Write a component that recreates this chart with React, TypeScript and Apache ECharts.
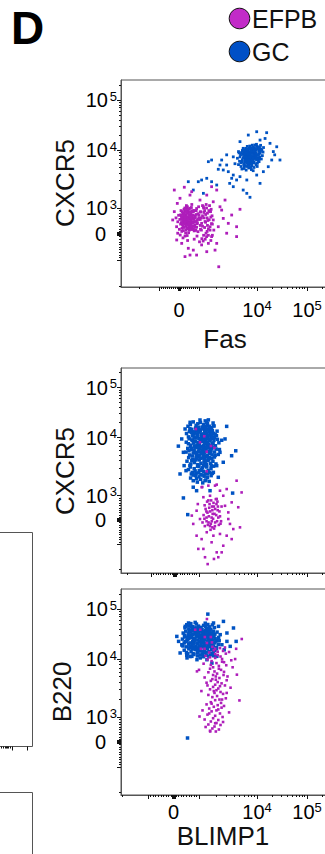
import React, { useEffect, useRef } from "react";
import * as echarts from "echarts";

const FONT = "'Liberation Sans', Arial, Helvetica, sans-serif";
const COLOR_EFPB = "#AE1EBA";
const COLOR_GC = "#0053C3";
const LEGEND_EFPB = "#C22BC8";
const LEGEND_GC = "#0050C6";

const groups = ["EFPB", "GC"];

// tick marks (fluorescence units)
const majorTicks = [-1000, -60, -40, -20, 0, 20, 40, 60, 1000, 10000, 100000];
const minorTicks = [
  -2000, -900, -800, -700, -600, -500, -400, -300, -200, -100, 100, 200, 300, 400, 500, 600, 700, 800, 900,
  2000, 3000, 4000, 5000, 6000, 7000, 8000, 9000, 20000, 30000, 40000, 50000, 60000, 70000, 80000, 90000, 200000,
];
const xTickLabels = [0, 10000, 100000];
const yTickLabels = [0, 1000, 10000, 100000];

// ---------- Panel 1 : Fas (x) vs CXCR5 (y) ----------
const p1Efpb: number[][] = [
  [400,520],[350,610],[520,450],[280,700],[610,380],[450,820],[180,560],[700,600],[330,300],[560,720],[240,420],[480,250],[650,890],[120,680],[390,980],[760,460],[520,150],[300,880],[80,380],[620,580],[430,380],[200,780],[550,990],[700,300],[350,150],[150,220],[810,700],[460,640],[280,520],[600,760],[40,560],[380,440],[720,860],[250,950],[520,560],[330,720],[900,520],[160,860],[480,50],[640,180],[20,180],[580,340],[420,1050],[300,-80],[120,440],[860,900],[200,-150],[760,120],[460,880],[350,600],[550,620],[230,650],[670,470],[90,740],[400,230],[540,830],[310,400],[700,730],[140,100],[880,260],[460,410],[260,250],[600,500],[380,800],[500,950],[170,370],[740,560],[290,1000],[620,1020],[-60,470],[430,-250],[820,620],[350,480],[200,320],[660,680],[500,330],[270,820],[950,780],[-120,280],[580,180],[410,650],[130,580],[760,900],[330,40],[480,740],[250,600],[700,420],[560,260],[100,900],[380,360],[900,400],[450,560],[220,130],[630,860],[300,660],[60,-40],[520,700],[790,350],[370,1100],[180,480],[990,620],[470,200],[-20,720],[660,280],[340,900],[560,470],[150,650],[840,140],[410,-60],[290,470],[1050,850],[600,650],[240,720],[720,180],[500,420],[-150,620],
  [1150,700],[1300,450],[1250,900],[1450,200],[1100,150],[1600,650],[1200,-50],[1400,800],[1050,560],[1700,380],[1350,1000],[1150,300],[1500,550],[1280,-200],[1080,850],[1800,150],[1220,620],[1620,950],[1380,100],[1120,-180],
  [700,200],[820,480],[950,90],[1000,720],[880,980],[760,-200],[1150,1100],[1300,750],[1420,520],[1550,150],[1680,700],[640,1150],[900,-80],[1050,330],[1200,1000],[1350,-100],[1480,900],[1600,-250],[780,650],[920,420],[1020,-300],[1250,250],[1380,620],[1520,1100],[1700,-50],[860,750],[980,1050],[1100,620],[1270,480],[1450,-50],[1640,400],[740,900],[1060,180],[1330,1150],[1580,860],[1180,-270],[820,260],[1400,330],[960,560],[1220,830],
  [-235,2040],[265,2280],[550,1670],[1650,2330],[1360,1670],[2020,2040],[2810,1370],[2460,920],[3660,730],[5090,950],[4450,-100],[4450,280],[3000,30],[2190,-1260],[880,-810],[1360,-680],[2020,-360],[1890,-620],[465,-550],[135,-360],[715,-620],[-115,-230],[1650,-100],[1760,540],[1550,860],[2150,280],[2620,600],[3200,410],[50,1470],[1040,1370],[635,1910],[-85,1200],[1190,1050],[1760,1280],[2300,1050],[1450,-360],[1110,-420],[300,-870],[550,-810],[-65,30],[-315,540],[-235,860],[1320,30],[1550,280],[1110,410],
];
const p1Gc: number[][] = [
  [7500,7000],[6200,8100],[8800,6200],[5600,6800],[9600,8600],[7000,9400],[8200,5300],[6600,5900],[10500,7400],[5100,7600],[7800,10200],[9200,9800],[6000,4800],[11500,8800],[8500,7600],[6900,6400],[5400,9000],[10200,5900],[7300,8300],[9000,11200],[6300,7100],[8000,4600],[12000,10500],[4800,5600],[7600,5800],[9800,6800],[5800,10200],[8600,9000],[6800,11800],[11000,6300],[7100,7800],[9400,7900],[5300,5200],[8300,12500],[6500,9600],[10800,9600],[7900,6600],[4600,7200],[12800,8000],[6100,6200],[8900,5000],[7400,10800],[9900,11800],[5700,8400],[10300,10400],[6700,5200],[8100,8800],[7200,4900],[11200,11600],[5000,6400],[9300,7200],[6400,10800],[8700,6900],[13200,9200],[7700,9100],[5500,4700],[10000,8200],[6900,7400],[8400,10600],[12200,7000],[6000,9200],[9600,5600],[7200,6100],[5200,8300],[11800,12400],[8000,7300],[6600,8700],[10600,6600],[7500,12000],[9100,8400],[5900,5700],[8600,4400],[6300,6700],[12500,9900],[7800,7700],[4900,8900],[10400,11000],[7000,5500],[9500,10000],[6500,4500],[8300,6300],[11300,7600],[5600,9800],[7400,8800],[9800,13000],[6800,6900],[13500,11200],[8200,9500],[5300,6000],[10900,8700],[7100,10000],[8900,7500],[6200,5400],[11600,10200],[7700,6300],[9200,12600],[5800,7300],[10100,5200],[8500,11400],[6600,7800],
  [7300,7500],[6700,8400],[8400,6700],[7900,9800],[6400,6300],[9700,7700],[8800,10300],[5900,7700],[7600,6200],[10700,8300],[6200,9900],[8100,5700],[9300,9200],[7000,8700],[5500,6300],[11700,9500],[7400,5400],[8700,8100],[6800,10500],[10100,6800],[7700,8500],[9000,6000],[6500,7500],[8200,11000],[7200,6700],[9500,8900],[6000,5200],[10900,10800],[8000,8000],[7000,6000],[8600,7200],[6300,8700],[9400,10600],[7800,5000],[5700,9500],[11000,7000],[8900,9700],[6600,6600],[7500,10800],[9900,7100],
  [28800,6720],[15600,22200],[9880,23200],[7080,19900],[18200,13600],[14500,17000],[11500,15800],[5090,14700],[5780,10800],[21200,9390],[16800,5150],[11500,2660],[7570,1530],[5780,2040],[3900,2330],[3660,3250],[4450,3040],[3200,4230],[3000,5510],[2300,5510],[2150,4650],[1650,6720],[1450,6290],[2460,6720],[2620,4520],[1650,2840],[1360,3250],[1110,3040],[965,2840],[715,2040],[465,2840],[1190,1790],[2020,2490],[3380,2660],[3900,3700],[5090,3470],[6670,3040],[9880,3700],[13400,4230],[19700,6720],[24800,11600],[3900,7620],[4170,5800],[4800,9390],[22600,8250],[6670,1790],[3000,8250],
];

// ---------- Panel 2 : BLIMP1 (x) vs CXCR5 (y) ----------
const p2Gc: number[][] = [
  [620,15000],[880,17500],[1150,16200],[1400,19000],[760,20500],[1030,14200],[1650,15800],[540,16800],[1280,21500],[950,18800],[1820,17000],[700,14600],[1200,18100],[1500,14400],[860,15500],[1350,16900],[1060,20000],[640,18200],[1750,19500],[1450,22500],
  [480,12000],[600,13200],[720,10800],[830,12600],[940,11300],[1050,13600],[1160,10400],[1260,12300],[1380,11000],[1490,13100],[1620,10700],[1760,12100],[1900,11600],[2050,13400],[560,10300],[990,12900],[1320,13900],[1560,11900],[800,11700],[1110,11100],[680,12700],[1700,13700],[1230,10100],[900,13900],[1430,10300],[2000,10900],
  [470,8300],[590,9500],[650,7400],[740,8800],[820,7100],[880,9800],[960,8200],[1020,7600],[1090,9200],[1150,8600],[1210,7300],[1290,9900],[1340,8000],[1420,9400],[1480,7500],[1550,8700],[1640,9700],[1700,7800],[1810,8900],[1920,7200],[2080,9300],[2200,8100],[560,7800],[700,9100],[1000,9600],[1250,8400],[1600,7000],[1380,7200],[920,7400],[1120,9900],[1850,9900],[780,8000],
  [460,5600],[530,6500],[610,5000],[690,6200],[760,5400],[840,6800],[900,4900],[970,5800],[1040,6400],[1100,5200],[1180,6900],[1240,5500],[1310,6100],[1370,4900],[1450,6600],[1520,5300],[1590,6000],[1680,5000],[1760,6700],[1850,5600],[1980,6300],[2150,5100],[580,5900],[720,4800],[1000,5000],[1150,6000],[1280,6700],[1420,5700],[1650,6400],[800,6000],[1900,4900],[1060,6900],[2250,6200],[650,6900],
  [500,3900],[570,4500],[660,3500],[740,4200],[810,3700],[880,4600],[950,3400],[1010,4100],[1080,3600],[1140,4400],[1220,3800],[1290,4700],[1350,3400],[1430,4000],[1500,4500],[1580,3600],[1660,4300],[1740,3900],[1840,4600],[1960,3500],[620,3300],[1000,4700],[1190,3300],[1400,4700],[1620,3300],[860,4100],[1260,4200],[700,4000],
  [560,2800],[640,3100],[720,2500],[800,2900],[870,2400],[940,3200],[1010,2700],[1080,2300],[1150,3000],[1210,2600],[1290,2400],[1360,3100],[1440,2700],[1520,2500],[1610,2900],[1700,2400],[1780,3200],[680,2350],[980,2450],[1240,3250],[840,2650],[1400,2350],[1100,2800],
  [650,2000],[760,1800],[850,2200],[930,1700],[1000,2100],[1070,1900],[1160,1650],[1230,2150],[1310,1850],[1400,2050],[1500,1750],[1620,2200],[900,1950],[1150,2250],[760,2250],
  [1000,8000],[1200,6500],[900,5500],[1100,11800],[1300,9000],[800,9900],[1450,7300],[1050,4400],[1250,3600],[950,12600],[1400,5800],[1150,14800],[850,7000],[1350,12000],[1000,3200],[1550,9200],[750,11000],[1200,16500],[1600,5600],[950,6700],[1100,2700],[1300,15200],[700,6500],[1500,11200],[1050,9300],[1250,7800],[900,4300],[1450,4200],[1150,10300],[800,13000],[1700,10300],[1350,6800],[1000,16000],[1200,4900],[1600,13000],[850,8600],[1400,8300],[1100,5600],[950,10600],[1250,13200],[1750,8000],[1050,7000],[1300,3900],[1500,16800],[900,15000],[1150,8900],[1400,14300],[1000,5900],[1200,11000],[1650,7100],
  [140,7100],[3000,16700],[4300,5900],[3650,4850],[530,220],[350,900],[3800,1100],[210,2350],[460,2680],[760,1390],[900,1210],[1270,1800],[1550,1210],[1770,2510],[2150,2060],[2620,3740],[2810,9440],[2460,8960],[2300,5550],[630,20100],[1040,22400],[1360,20100],[1770,17200],[420,14800],[280,9440],[350,5550],[380,3270],[2020,3270],
];
const p2Efpb: number[][] = [
  [1650,100],[1400,300],[1900,-100],[1250,600],[2100,400],[1550,-250],[1780,700],[1350,-50],[2300,150],[1500,500],[1700,-300],[1200,200],[2000,650],[1850,250],[1450,800],[1600,-150],[2200,-200],[1300,450],[1750,50],[2450,550],[1150,-100],[1950,850],[1550,350],[1820,-350],[1380,750],[2150,100],[1680,550],[1260,-250],[2050,-50],[1480,150],[1900,450],[1620,800],[2350,-150],[1720,250],[1340,350],[2080,750],[1580,-400],[1980,200],[1420,-200],[1800,550],[1240,50],[2250,350],[1660,-50],[1880,-250],[1520,650],[2120,550],[1350,100],[1700,400],[2400,-50],[1460,-100],
  [1110,1390],[1450,1480],[1890,1480],[2300,1210],[3000,1290],[4450,1800],[5430,1130],[3660,720],[3200,310],[3900,-370],[5090,-300],[3660,-780],[3000,-640],[2620,-1050],[2020,-1320],[2150,-1520],[1410,-1800],[1190,-1180],[970,-1180],[900,-640],[1110,-780],[1650,-910],[1770,-640],[1360,-500],[2300,-570],[1810,-1590],[1040,40],[900,380],[950,650],[1190,930],[1550,990],[2020,860],[2620,990],[2810,580],[3200,40],[4750,520],[3420,-160],[1270,-1520],[2460,-1320],[760,-160],[700,180],
  [870,14800],[1230,10600],[1040,8260],[1610,7130],[1360,5700],[1840,6630],[1360,2610],[1140,1400],[2020,1540],
];

// ---------- Panel 3 : BLIMP1 (x) vs B220 (y) ----------
const p3Gc: number[][] = [
  [450,42000],[600,46000],[750,39000],[900,50000],[1050,43000],[1200,47000],[1350,40000],[1500,44000],[1700,48000],[680,51000],[820,41500],[980,45500],[1130,38500],[1280,52000],[1420,49000],[1600,39500],[520,48500],[1850,42500],[1000,40200],[760,44500],
  [380,33000],[480,36000],[570,30000],[660,34500],[740,31500],[830,37000],[910,29500],[990,33500],[1060,36500],[1140,30500],[1220,34000],[1300,37500],[1390,31000],[1470,35000],[1560,29000],[1650,33000],[1760,36000],[1880,31500],[2050,34500],[430,30000],[620,37500],[870,32000],[1100,29000],[1330,33500],[1520,37500],[950,35500],[700,29300],[1800,29500],
  [350,25000],[440,27500],[520,23000],[600,26000],[680,28500],[750,22500],[820,25500],[890,28000],[960,24000],[1030,26500],[1090,22000],[1160,27500],[1230,24500],[1310,28800],[1380,23000],[1450,26000],[1530,22500],[1620,27000],[1710,24000],[1800,28000],[1900,25500],[2050,23500],[2180,27000],[560,24500],[790,23800],[1000,28800],[1270,26800],[1580,25000],[720,27000],[1120,25000],[480,22300],[1950,22800],
  [340,19000],[420,21000],[500,17500],[590,20000],[660,16800],[730,19500],[810,21500],[880,18000],[950,20500],[1020,17000],[1080,19200],[1150,21800],[1210,17800],[1290,20200],[1360,16600],[1430,19000],[1510,21300],[1590,17700],[1680,20000],[1770,18300],[1870,21000],[2000,17000],[2150,19500],[640,18200],[920,16500],[1250,19000],[1550,18800],[780,17300],[1100,20800],[1700,16700],
  [420,15000],[510,13500],[600,16000],[690,14000],[770,12800],[850,15500],[930,13200],[1010,16200],[1080,14400],[1160,12600],[1240,15200],[1320,13700],[1400,16400],[1480,14100],[1570,12900],[1660,15600],[1760,13400],[1880,14800],[2000,16000],[560,12700],[980,14800],[1200,13900],[1700,12700],[740,16300],
  [520,11800],[650,11200],[800,12300],[940,11500],[1070,12100],[1190,11100],[1330,11900],[1480,11400],[1620,12200],[1780,11600],
  [900,30000],[1100,24000],[800,20000],[1300,36000],[700,27000],[1000,18000],[1200,31000],[600,33000],[1400,22000],[900,42000],[1050,15500],[1500,30000],[750,36500],[1250,19500],[1650,25500],[850,24000],[1100,40000],[650,21000],[1350,27500],[950,14000],[1550,34000],[1150,17500],[700,44000],[1450,41000],[1000,33000],[800,16000],[1300,45000],[1200,23000],[550,27000],[1600,21500],[1050,29000],[900,37500],[1400,17000],[750,31000],[1150,35000],[1250,13500],[1700,31000],[600,40000],[1000,22500],[1350,32500],
  [1420,79000],[2640,56500],[3930,41700],[4370,22500],[550,160],[200,22500],[260,13200],[370,18200],[130,28300],[460,45000],[590,52500],[850,54000],[1780,52500],[2170,45000],[2320,30700],[2480,19300],[3030,22500],[3450,17900],[2720,15300],[3030,33100],[1050,10500],[920,9730],[1370,9730],[720,11300],[2030,11300],[530,10500],[1670,8510],[330,19300],[2230,23200],
];
const p3Efpb: number[][] = [
  [1800,15000],[2100,12000],[1500,13500],[2600,14500],[1300,11500],[2900,12800],[1900,10500],[2300,16500],[1650,9200],[2500,10000],[3300,13800],[1400,9800],[2000,8500],[2700,8800],[1200,8300],[2200,7600],[1750,7200],[2950,7800],[1550,6800],[2400,6500],[3600,9500],[1850,6100],[2050,5600],[1450,5900],[2650,5300],[1950,5000],[2250,4700],[1700,4500],[3100,5000],[1600,4200],[2100,4000],[2450,3800],[1900,3600],[1350,3900],[2800,3500],[1750,3300],[2150,3100],[2000,2900],[1550,3000],[2350,2700],[1850,2600],[2600,2500],[1450,2400],[2050,2300],[1700,2200],[3000,2600],[2250,2000],[1900,1950],[1600,1800],[2400,1750],[1350,1650],[2100,1600],[1800,1500],[2700,1550],[1500,1400],[2000,1300],[1650,1250],[2300,1150],[1400,1100],[1900,1050],[2550,1000],[1750,950],[1250,900],[2150,880],[1600,820],[2000,760],[1450,700],[2350,680],[1850,620],[1700,540],[2200,500],[1300,600],[2600,800],[1550,450],[1950,420],[3300,1200],[1150,1300],[2900,2100],[1100,2800],[3500,3200],[1250,4800],[3000,4300],[2700,6000],[1000,6500],[3800,7200],[1550,10800],[2100,14000],[1250,16000],[2800,17000],[1700,17500],[2350,11200],[1900,12600],[1600,7900],[2500,9000],[1950,4400],[2300,3400],[1800,2800],[2500,2000],[1650,1700],[2150,1350],[1900,750],[1500,1150],[2450,1450],[1750,5300],[2200,6800],[1400,3500],
  [5460,25100],[4980,1930],[1370,63000],[1560,420],[4500,5370],[4200,9970],[4370,16000],[920,6120],[1020,1020],
  [1050,38500],[1370,20900],[1670,21500],[1600,27500],[1080,16000],[1260,27500],[1900,16000],[850,38500],
];

// ---------- scale: biexponential-like display transform ----------
function biex(v: number, z: number): number {
  const a = z - 1.16;
  if (v < 1000) return (a * v) / 1000;
  if (v < 10000) return a + 1.16 * Math.log10(v / 1000);
  return z + Math.log10(v / 10000);
}

const GRID_LEFT = 121;
const GRID_WIDTH = 211;
const PX_PER_DECADE = 50;

const panels = [
  { top: 80, height: 207, zx: 1.56, zy: 1.68, xmin: -1.16, ymin: -1.06, ymax: 3.08, efpb: p1Efpb, gc: p1Gc, xLabels: true, labelMargin: 12, gcSize: 2.8, efpbSize: 2.8 },
  { top: 368, height: 205, zx: 1.64, zy: 1.65, xmin: -1.08, ymin: -1.06, ymax: 3.04, efpb: p2Efpb, gc: p2Gc, xLabels: false, labelMargin: 12, gcSize: 3.5, efpbSize: 2.6 },
  { top: 589, height: 206, zx: 1.67, zy: 1.66, xmin: -1.05, ymin: -1.06, ymax: 3.06, efpb: p3Efpb, gc: p3Gc, xLabels: true, labelMargin: 6, gcSize: 3.5, efpbSize: 2.6 },
];

const titles = [
  { text: "CXCR5", x: 65, y: 183, rot: true },
  { text: "Fas", x: 225, y: 339, rot: false },
  { text: "CXCR5", x: 65, y: 471, rot: true },
  { text: "B220", x: 62, y: 692, rot: true },
  { text: "BLIMP1", x: 223, y: 836, rot: false },
];

const legendItems = [
  { name: groups[0], color: LEGEND_EFPB, cy: 18.5 },
  { name: groups[1], color: LEGEND_GC, cy: 51.5 },
];

function labelText(v: number, padZero: boolean): string {
  if (v === 0) return padZero ? "{b|0}{p| }" : "{b|0}";
  const k = Math.round(Math.log10(v));
  return `{b|10}{s|${k}}`;
}

function nearest(list: number[], val: number, z: number): number {
  let best = list[0];
  let d = Infinity;
  for (const L of list) {
    const dd = Math.abs(biex(L, z) - val);
    if (dd < d) {
      d = dd;
      best = L;
    }
  }
  return best;
}

function rich(isY: boolean) {
  return {
    b: { fontSize: 20, fontFamily: FONT, color: "#000", lineHeight: 21 },
    s: { fontSize: 13, fontFamily: FONT, color: "#000", verticalAlign: "top", lineHeight: 13, ...(isY ? { width: 9 } : {}) },
    p: { fontSize: 13, fontFamily: FONT, color: "#000", width: 11 },
  };
}

function buildOption() {
  const grid: any[] = [];
  const xAxis: any[] = [];
  const yAxis: any[] = [];
  const series: any[] = [];

  panels.forEach((p, i) => {
    const xmax = p.xmin + GRID_WIDTH / PX_PER_DECADE;
    grid.push({
      left: GRID_LEFT,
      top: p.top,
      width: GRID_WIDTH,
      height: p.height,
      show: true,
      borderColor: "#555",
      borderWidth: 1,
      containLabel: false,
    });
    const inX = (d: number) => d >= p.xmin - 1e-6 && d <= xmax + 1e-6;
    const inY = (d: number) => d >= p.ymin - 0.02 && d <= p.ymax + 1e-6;
    const xMaj = majorTicks.map((v) => biex(v, p.zx)).filter(inX);
    const xMin = minorTicks.map((v) => biex(v, p.zx)).filter(inX);
    const yMaj = majorTicks.map((v) => biex(v, p.zy)).filter(inY);
    const yMin = minorTicks.map((v) => biex(v, p.zy)).filter(inY);

    xAxis.push({
      gridIndex: i,
      type: "value",
      position: "bottom",
      min: p.xmin,
      max: xmax,
      axisLine: { show: true, onZero: false, lineStyle: { color: "#555", width: 1 } },
      axisTick: { show: true, customValues: xMaj, length: 4, lineStyle: { color: "#111", width: 1 } },
      axisLabel: {
        show: p.xLabels,
        customValues: xTickLabels.map((v) => biex(v, p.zx)),
        margin: p.labelMargin,
        fontSize: 20,
        fontFamily: FONT,
        color: "#000",
        formatter: (val: number) => labelText(nearest(xTickLabels, val, p.zx), false),
        rich: rich(false),
      },
      splitLine: { show: false },
    });
    xAxis.push({
      gridIndex: i,
      type: "value",
      position: "bottom",
      min: p.xmin,
      max: xmax,
      axisLine: { show: false, onZero: false },
      axisTick: { show: true, customValues: xMin, length: 2, lineStyle: { color: "#111", width: 1 } },
      axisLabel: { show: false },
      splitLine: { show: false },
    });
    yAxis.push({
      gridIndex: i,
      type: "value",
      position: "left",
      min: p.ymin,
      max: p.ymax,
      axisLine: { show: true, onZero: false, lineStyle: { color: "#555", width: 1 } },
      axisTick: { show: true, customValues: yMaj, length: 4, lineStyle: { color: "#111", width: 1 } },
      axisLabel: {
        show: true,
        customValues: yTickLabels.map((v) => biex(v, p.zy)),
        margin: 4,
        fontSize: 20,
        fontFamily: FONT,
        color: "#000",
        formatter: (val: number) => labelText(nearest(yTickLabels, val, p.zy), true),
        rich: rich(true),
      },
      splitLine: { show: false },
    });
    yAxis.push({
      gridIndex: i,
      type: "value",
      position: "left",
      min: p.ymin,
      max: p.ymax,
      axisLine: { show: false, onZero: false },
      axisTick: { show: true, customValues: yMin, length: 2, lineStyle: { color: "#111", width: 1 } },
      axisLabel: { show: false },
      splitLine: { show: false },
    });

    const toDisp = (pts: number[][]) => pts.map(([x, y]) => [biex(x, p.zx), biex(y, p.zy)]);
    series.push({
      type: "scatter",
      name: groups[1],
      xAxisIndex: i * 2,
      yAxisIndex: i * 2,
      data: toDisp(p.gc),
      symbol: "rect",
      symbolSize: p.gcSize,
      itemStyle: { color: COLOR_GC, opacity: 1 },
      silent: true,
    });
    series.push({
      type: "scatter",
      name: groups[0],
      xAxisIndex: i * 2,
      yAxisIndex: i * 2,
      data: toDisp(p.efpb),
      symbol: "rect",
      symbolSize: p.efpbSize,
      itemStyle: { color: COLOR_EFPB, opacity: 1 },
      silent: true,
    });
  });

  const graphic: any[] = [
    {
      type: "text",
      x: 11,
      y: 28,
      style: { text: "D", fontSize: 46, fontWeight: "bold", fontFamily: FONT, fill: "#000", align: "left", verticalAlign: "middle" },
    },
    ...titles.map((t) => ({
      type: "text",
      x: t.x,
      y: t.y,
      rotation: t.rot ? Math.PI / 2 : 0,
      style: { text: t.text, fontSize: 26, fontFamily: FONT, fill: "#111", align: "center", verticalAlign: "middle" },
    })),
    // legend
    ...legendItems.flatMap((it) => [
      { type: "circle", shape: { cx: 239.5, cy: it.cy, r: 10.3 }, style: { fill: it.color, stroke: "#111", lineWidth: 1 } },
      {
        type: "text",
        x: 252,
        y: it.cy + 0.5,
        style: { text: it.name, fontSize: 25, fontFamily: FONT, fill: "#111", align: "left", verticalAlign: "middle" },
      },
    ]),
    // partial frames of neighbouring panels (cut off at left edge)
    { type: "rect", shape: { x: -5, y: 532.5, width: 37.5, height: 214 }, style: { fill: "none", stroke: "#555", lineWidth: 1 } },
    { type: "rect", shape: { x: -5, y: 792.5, width: 37.5, height: 100 }, style: { fill: "none", stroke: "#555", lineWidth: 1 } },
    ...[1.5, 3.5, 5.5, 6.5, 7.5, 8.5, 10.5].map((x) => ({
      type: "line",
      shape: { x1: x, y1: 746.5, x2: x, y2: 748.5 },
      style: { stroke: "#111", lineWidth: 1 },
    })),
    ...[12.5, 27.5].map((x) => ({
      type: "line",
      shape: { x1: x, y1: 746.5, x2: x, y2: 750.5 },
      style: { stroke: "#111", lineWidth: 1 },
    })),
  ];

  return {
    animation: false,
    backgroundColor: "#fff",
    grid,
    xAxis,
    yAxis,
    series,
    graphic,
  };
}

export default function App() {
  const ref = useRef<HTMLDivElement>(null);
  useEffect(() => {
    if (!ref.current) return;
    const chart = echarts.init(ref.current, undefined, { renderer: "svg" });
    chart.setOption(buildOption() as any);
    return () => chart.dispose();
  }, []);
  return (
    <div style={{ position: "fixed", left: 0, top: 0, width: 325, height: 854, overflow: "hidden", background: "#fff" }}>
      <div ref={ref} style={{ width: 340, height: 854 }} />
    </div>
  );
}
